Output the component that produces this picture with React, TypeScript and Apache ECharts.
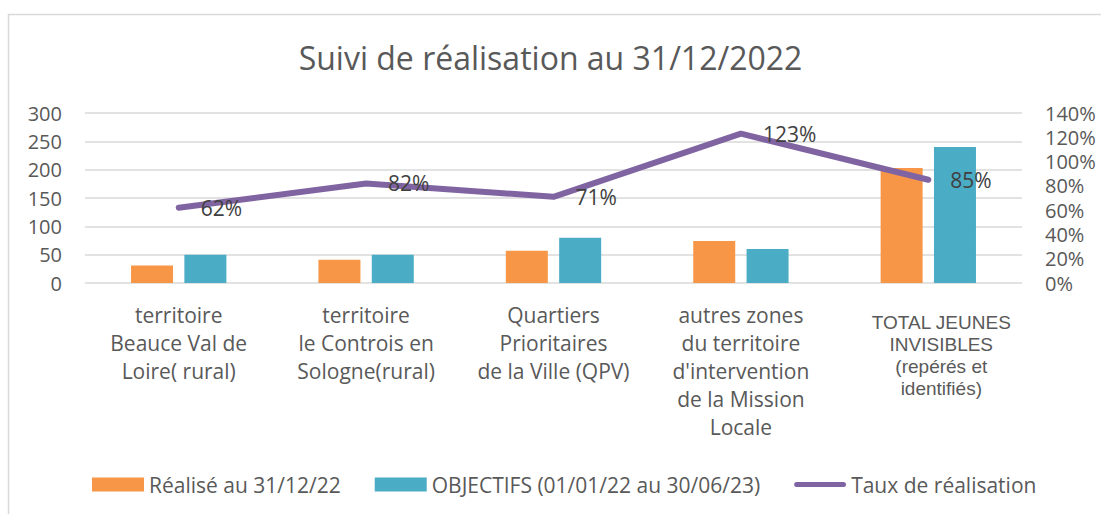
import React, { useEffect, useRef } from "react";
import * as echarts from "echarts";

const categories = [
  "territoire\nBeauce Val de\nLoire( rural)",
  "territoire\nle Controis en\nSologne(rural)",
  "Quartiers\nPrioritaires\nde la Ville (QPV)",
  "autres zones\ndu territoire\nd'intervention\nde la Mission\nLocale",
  "TOTAL JEUNES\nINVISIBLES\n(repérés et\nidentifiés)",
];
const realise = [31, 41, 57, 74, 203];
const objectifs = [50, 50, 80, 60, 240];
const taux = [62, 82, 71, 123, 85];
const leftTicks = { min: 0, max: 300, interval: 50 };
const rightTicks = { min: 0, max: 140, interval: 20 };

const FONT = "'Open Sans', 'Noto Sans', sans-serif";
const TXT = "#595959";
const LINE_ICON =
  "path://M0,0M52,14M2.5,4.5L49.5,4.5A2.5,2.5 0 0 1 49.5,9.5L2.5,9.5A2.5,2.5 0 0 1 2.5,4.5Z";

export default function App() {
  const ref = useRef<HTMLDivElement>(null);
  useEffect(() => {
    if (!ref.current) return;
    const chart = echarts.init(ref.current, null, { renderer: "svg" });
    const lastIdx = categories.length - 1;
    chart.setOption({
      animation: false,
      backgroundColor: "#ffffff",
      textStyle: { fontFamily: FONT },
      graphic: [
        {
          type: "rect",
          silent: true,
          shape: { x: 8.5, y: 14.5, width: 1200, height: 600 },
          style: { fill: "none", stroke: "#d9d9d9", lineWidth: 1.5 },
        },
      ],
      title: {
        text: "Suivi de réalisation au 31/12/2022",
        left: "center",
        top: 36,
        padding: 0,
        textStyle: {
          fontFamily: FONT,
          fontSize: 32,
          fontWeight: "normal",
          color: TXT,
          lineHeight: 42,
        },
      },
      legend: {
        left: 92,
        top: 474,
        padding: 0,
        itemWidth: 52,
        itemHeight: 14,
        itemGap: 34,
        textStyle: { fontFamily: FONT, fontSize: 21, color: TXT },
        data: [
          { name: "Réalisé au 31/12/22", icon: "rect" },
          { name: "OBJECTIFS (01/01/22 au 30/06/23)", icon: "rect" },
          { name: "Taux de réalisation", icon: LINE_ICON },
        ],
      },
      grid: { left: 85, right: 79, top: 113, bottom: 231 },
      xAxis: {
        type: "category",
        data: categories,
        axisLine: { show: false },
        axisTick: { show: false },
        axisLabel: {
          interval: 0,
          margin: 18,
          fontFamily: FONT,
          fontSize: 21,
          lineHeight: 28,
          color: TXT,
          formatter: (v: string, i: number) => {
            if (i === lastIdx) {
              return "{g| }\n" + v.split("\n").map((l) => "{t|" + l + "}").join("\n");
            }
            return v;
          },
          rich: {
            g: { fontSize: 1, lineHeight: 10 },
            t: {
              fontFamily: "'Liberation Sans', Arial, sans-serif",
              fontSize: 19,
              lineHeight: 22,
              color: TXT,
              align: "center",
              padding: [0, 0, 0, 26],
            },
          },
        },
      },
      yAxis: [
        {
          type: "value",
          min: leftTicks.min,
          max: leftTicks.max,
          interval: leftTicks.interval,
          axisLine: { show: false },
          axisTick: { show: false },
          axisLabel: {
            margin: 23,
            fontFamily: FONT,
            fontSize: 20,
            lineHeight: 20,
            color: TXT,
          },
          splitLine: { lineStyle: { color: "#d9d9d9", width: 1.5 } },
        },
        {
          type: "value",
          min: rightTicks.min,
          max: rightTicks.max,
          interval: rightTicks.interval,
          position: "right",
          axisLine: { show: false },
          axisTick: { show: false },
          axisLabel: {
            margin: 23,
            fontFamily: FONT,
            fontSize: 20,
            lineHeight: 20,
            color: TXT,
            formatter: "{value}%",
          },
          splitLine: { show: false },
        },
      ],
      series: [
        {
          name: "Réalisé au 31/12/22",
          type: "bar",
          data: realise,
          barWidth: 42,
          barGap: "27%",
          itemStyle: { color: "#F79646" },
        },
        {
          name: "OBJECTIFS (01/01/22 au 30/06/23)",
          type: "bar",
          data: objectifs,
          barWidth: 42,
          barGap: "27%",
          itemStyle: { color: "#4BACC6" },
        },
        {
          name: "Taux de réalisation",
          type: "line",
          yAxisIndex: 1,
          data: taux,
          symbol: "circle",
          symbolSize: 2,
          showSymbol: true,
          lineStyle: { color: "#8064A2", width: 6, cap: "round", join: "round" },
          itemStyle: { color: "#8064A2" },
          label: {
            show: true,
            position: "right",
            distance: 21,
            formatter: "{c}%",
            fontFamily: FONT,
            fontSize: 21,
            color: "#404040",
          },
        },
      ],
    });
    return () => chart.dispose();
  }, []);
  return (
    <div
      ref={ref}
      style={{ position: "fixed", left: 0, top: 0, width: 1101, height: 514 }}
    />
  );
}
